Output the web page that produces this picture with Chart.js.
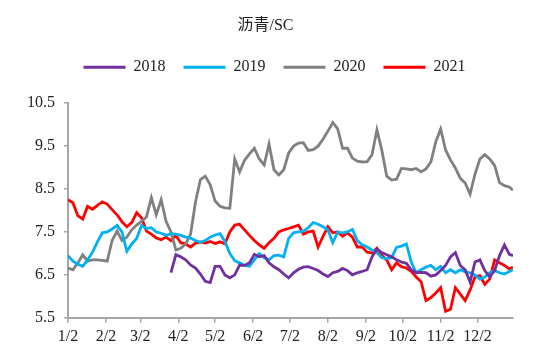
<!DOCTYPE html>
<html><head><meta charset="utf-8">
<script src="https://cdn.jsdelivr.net/npm/chart.js@4.4.1/dist/chart.umd.min.js"></script>
<style>html,body{margin:0;padding:0;background:#fff}#wrap{width:550px;height:355px}</style>
</head><body><div id="wrap"><canvas id="c" width="550" height="355"></canvas></div>
<script>
const chartTitle = "沥青/SC";
const seriesNames = ["2018", "2019", "2020", "2021"];
// day offset from 1/2 for each sample
const days = [0,4,8,12,16,20,24,28,32,36,40,44,48,52,56,60,64,68,72,76,80,84,88,92,96,100,104,108,112,116,120,124,128,132,136,140,144,148,152,156,160,164,168,172,176,180,184,188,192,196,200,204,208,212,216,220,224,228,232,236,240,244,248,252,256,260,264,268,272,276,280,284,288,292,296,300,304,308,312,316,320,324,328,332,336,340,344,348,352,356,360,363];
const v2018 = [null,null,null,null,null,null,null,null,null,null,null,null,null,null,null,null,null,null,null,null,null,
  6.55,6.97,6.92,6.85,6.73,6.66,6.52,6.35,6.32,6.7,
  6.7,6.5,6.43,6.5,6.73,6.72,6.78,6.98,6.92,6.95,
  6.78,6.69,6.62,6.52,6.43,6.55,6.63,6.68,6.69,6.65,
  6.6,6.52,6.46,6.55,6.58,6.65,6.6,6.5,6.55,6.58,
  6.62,6.92,7.1,7.02,6.97,6.92,6.85,6.8,6.77,6.62,
  6.55,6.56,6.55,6.47,6.5,6.6,6.72,6.92,7.02,6.72,
  6.62,6.33,6.8,6.85,6.6,6.45,6.6,6.95,7.2,6.98,
  6.95];
const v2019 = [6.95,6.82,6.75,6.7,6.85,7.03,7.27,7.48,7.5,7.57,
  7.65,7.5,7.05,7.22,7.35,7.65,7.58,7.6,7.5,7.47,
  7.42,7.46,7.45,7.42,7.38,7.36,7.3,7.26,7.3,7.38,
  7.43,7.46,7.28,7.0,6.83,6.78,6.72,6.7,6.85,7.0,
  6.9,6.85,6.95,6.96,6.92,7.35,7.48,7.5,7.52,7.6,
  7.72,7.68,7.62,7.55,7.25,7.5,7.48,7.5,7.56,7.3,
  7.2,7.15,7.08,7.02,6.9,6.88,6.9,7.14,7.17,7.22,
  6.8,6.55,6.62,6.68,6.72,6.62,6.7,6.55,6.62,6.55,
  6.62,6.57,6.55,6.5,6.4,6.45,6.55,6.6,6.55,6.52,
  6.58,6.62];
const v2020 = [6.66,6.62,6.78,6.97,6.82,6.85,6.85,6.84,6.82,7.3,
  7.52,7.3,7.38,7.55,7.66,7.75,7.85,8.3,7.9,8.25,
  7.75,7.5,7.08,7.12,7.22,7.45,8.2,8.72,8.8,8.6,
  8.22,8.1,8.06,8.05,9.2,8.9,9.17,9.32,9.45,9.2,
  9.06,9.55,8.95,8.83,8.95,9.34,9.5,9.57,9.58,9.4,
  9.42,9.5,9.66,9.85,10.05,9.9,9.45,9.45,9.22,9.15,
  9.13,9.14,9.3,9.88,9.4,8.8,8.71,8.73,8.98,8.97,
  8.95,8.98,8.9,8.97,9.13,9.6,9.9,9.41,9.18,8.99,
  8.75,8.64,8.38,8.85,9.2,9.3,9.2,9.05,8.65,8.58,
  8.55,8.47];
const v2021 = [8.25,8.18,7.88,7.8,8.1,8.03,8.12,8.2,8.15,8.02,
  7.9,7.74,7.62,7.72,7.95,7.83,7.52,7.45,7.36,7.32,
  7.38,7.3,7.42,7.25,7.22,7.15,7.24,7.27,7.24,7.28,
  7.23,7.27,7.22,7.5,7.66,7.68,7.55,7.42,7.3,7.2,
  7.12,7.25,7.35,7.5,7.55,7.58,7.62,7.66,7.45,7.5,
  7.52,7.15,7.4,7.62,7.48,7.5,7.4,7.48,7.38,7.15,
  7.15,7.03,7.01,7.12,6.95,6.85,6.62,6.78,6.69,6.66,
  6.58,6.45,6.34,5.9,5.97,6.08,6.2,5.65,5.7,6.2,
  6.05,5.9,6.15,6.45,6.48,6.28,6.4,6.85,6.78,6.72,
  6.64,6.68];
const xTickDays = [0,31,59,90,120,151,181,212,243,273,304,334];
const xTickLabels = ["1/2","2/2","3/2","4/2","5/2","6/2","7/2","8/2","9/2","10/2","11/2","12/2"];
const yTicks = [5.5,6.5,7.5,8.5,9.5,10.5];

const seriesValues = [v2018, v2019, v2020, v2021];
const colors = ["#7030A0", "#00B0F0", "#808080", "#FF0000"];
const FONT = "'Liberation Serif', 'Noto Sans CJK SC', serif";
const axisColor = "#a6a6a6";

const datasets = seriesNames.map((name, k) => ({
  label: name,
  data: days.map((d, i) => ({x: d, y: seriesValues[k][i]})),
  borderColor: colors[k],
  backgroundColor: colors[k],
  borderWidth: 2.8,
  pointRadius: 0,
  tension: 0,
  spanGaps: false
}));

const legendGap = {
  id: 'legendGap',
  afterInit(chart) {
    const lg = chart.legend;
    const orig = lg.fit;
    lg.fit = function () { orig.call(this); this.height += 18; };
  },
  afterLayout(chart) {
    chart.legend.left += 9;
    chart.legend.right += 9;
  }
};

new Chart(document.getElementById('c'), {
  type: 'line',
  data: { datasets },
  plugins: [legendGap],
  options: {
    responsive: false,
    animation: false,
    devicePixelRatio: 1,
    layout: { padding: { left: 18, right: 37, top: 0, bottom: 5 } },
    plugins: {
      title: {
        display: true, text: chartTitle, color: '#222',
        font: { family: FONT, size: 16, weight: 'normal' },
        padding: { top: 16, bottom: 6 }
      },
      legend: {
        display: true, position: 'top',
        labels: {
          color: '#222', font: { family: FONT, size: 16 },
          boxWidth: 42, boxHeight: 3, padding: 18,
          generateLabels(chart) {
            const items = Chart.defaults.plugins.legend.labels.generateLabels(chart);
            items.forEach(it => { it.fillStyle = it.strokeStyle; it.lineWidth = 0; });
            return items;
          }
        }
      },
      tooltip: { enabled: false }
    },
    scales: {
      x: {
        type: 'linear', min: 0, max: 363,
        afterBuildTicks(s) { s.ticks = xTickDays.map(v => ({ value: v })); },
        ticks: {
          autoSkip: false, maxRotation: 0, padding: 4, color: '#222',
          font: { family: FONT, size: 16 },
          callback: v => xTickLabels[xTickDays.indexOf(v)]
        },
        grid: { display: true, drawOnChartArea: false, drawTicks: true, tickLength: 5, color: axisColor, lineWidth: 1.5 },
        border: { display: true, color: axisColor, width: 2 }
      },
      y: {
        type: 'linear', min: 5.5, max: 10.5,
        afterBuildTicks(s) { s.ticks = yTicks.map(v => ({ value: v })); },
        ticks: {
          padding: 9, color: '#222',
          font: { family: FONT, size: 16 },
          callback: v => v.toFixed(1)
        },
        grid: { display: true, drawOnChartArea: false, drawTicks: true, tickLength: 4, color: axisColor, lineWidth: 1.5 },
        border: { display: true, color: axisColor, width: 2 }
      }
    }
  }
});
</script>
</body></html>
